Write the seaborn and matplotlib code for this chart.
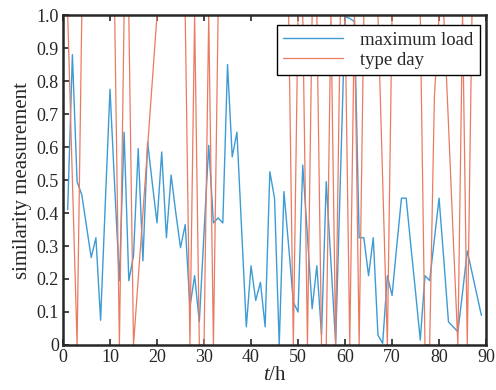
import numpy as np
import pandas as pd
import matplotlib
matplotlib.use('Agg')
import matplotlib.pyplot as plt
import seaborn as sns

# hours
t = list(range(1, 90))

# similarity of the maximum load
max_load = [0.41, 0.88, 0.495, 0.455, 0.36, 0.265, 0.325, 0.075, 0.43, 0.775,
            0.48, 0.195, 0.645, 0.195, 0.27, 0.595, 0.255, 0.615, 0.49, 0.37,
            0.585, 0.325, 0.515, 0.40, 0.295, 0.365, 0.115, 0.21, 0.07, 0.34,
            0.605, 0.37, 0.385, 0.37, 0.85, 0.57, 0.645, 0.35, 0.055, 0.24,
            0.135, 0.19, 0.055, 0.525, 0.445, 0.0, 0.465, 0.30, 0.13, 0.10,
            0.545, 0.33, 0.11, 0.24, 0.03, 0.495, 0.25, 0.005, 0.50, 0.995,
            0.99, 0.98, 0.325, 0.325, 0.21, 0.325, 0.03, 0.005, 0.21, 0.15,
            0.30, 0.445, 0.445, 0.30, 0.16, 0.015, 0.21, 0.195, 0.32, 0.445,
            0.26, 0.07, 0.055, 0.04, 0.16, 0.285, 0.22, 0.155, 0.09]

# similarity of the type day
type_day = [1, 0.5, 0, 1, 1, 1, 1, 1, 1, 1,
            1, 0, 1, 1, 0, 0.2, 0.4, 0.6, 0.8, 1,
            1, 1, 1, 1, 1, 1, 0, 1, 0, 0,
            1, 0, 1, 1, 1, 1, 1, 1, 1, 1,
            1, 1, 1, 1, 1, 1, 1, 1, 0, 1,
            1, 0, 1, 1, 0, 0, 1, 0, 1, 1,
            0, 1, 0, 1, 1, 1, 1, 0.5, 0, 1,
            1, 1, 1, 1, 1, 1, 0, 0, 0.75, 1,
            1, 0.67, 0.33, 0, 1, 0, 1, 1, 1]

df = pd.DataFrame({'t': t, 'max_load': max_load, 'type_day': type_day})

sns.set_style('ticks')
plt.rcParams['font.family'] = ['Liberation Serif', 'DejaVu Serif']
plt.rcParams['mathtext.fontset'] = 'custom'
plt.rcParams['mathtext.it'] = 'Liberation Serif:italic'
plt.rcParams['mathtext.rm'] = 'Liberation Serif'

fig = plt.figure(figsize=(4.96, 3.9), dpi=100)
ax = fig.add_axes([0.127, 0.1154, 0.853, 0.8461])

sns.lineplot(data=df, x='t', y='max_load', ax=ax, color='#3d9bd6', lw=1.0, label='maximum load')
sns.lineplot(data=df, x='t', y='type_day', ax=ax, color='#ea7a62', lw=0.9, label='type day')

ax.set_xlim(0, 90)
ax.set_ylim(0, 1)
ax.set_xticks(range(0, 91, 10))
ax.set_yticks(np.arange(0, 1.01, 0.1))
ax.set_yticklabels(['0'] + ['%.1f' % v for v in np.arange(0.1, 1.01, 0.1)])
ax.tick_params(direction='in', top=True, right=False, length=4, width=1.2, labelsize=13, pad=3)
for s in ax.spines.values():
    s.set_linewidth(1.8)

ax.set_xlabel('$t$/h', fontsize=15, labelpad=0)
ax.set_ylabel('similarity measurement', fontsize=15, labelpad=3)

leg = ax.legend(loc='upper right', bbox_to_anchor=(0.986, 0.97), borderaxespad=0,
                fontsize=13.5, frameon=True, fancybox=False, edgecolor='black',
                framealpha=1, labelspacing=0.15, handlelength=3.2, handletextpad=0.9,
                borderpad=0.35)
leg.get_frame().set_linewidth(1.0)

fig.savefig('out.png', dpi=100)
